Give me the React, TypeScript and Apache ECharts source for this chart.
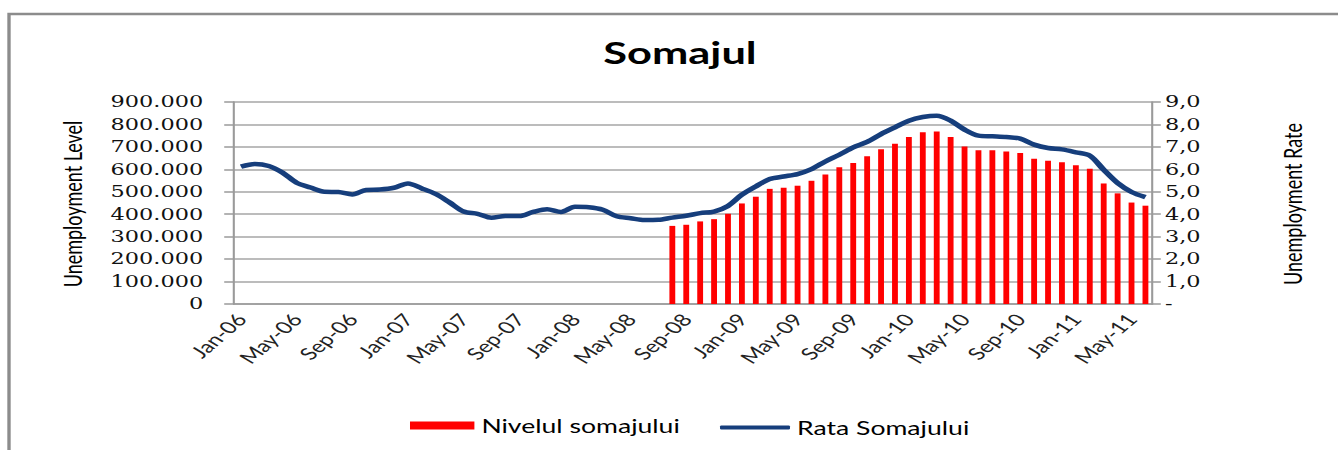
import React, { useEffect, useRef } from "react";
import * as echarts from "echarts";

const monthNames = ["Jan", "Feb", "Mar", "Apr", "May", "Jun", "Jul", "Aug", "Sep", "Oct", "Nov", "Dec"];
const years = ["06", "07", "08", "09", "10", "11"];
const categories: string[] = [];
years.forEach((y) => monthNames.forEach((m) => categories.push(`${m}-${y}`)));
categories.splice(66); // Jan-06 .. Jun-11

// Unemployment rate (%), Jan-06 .. Jun-11
const rateValues = [
  6.12, 6.24, 6.15, 5.85, 5.4, 5.19, 5.0, 4.99, 4.88, 5.08, 5.1, 5.18,
  5.37, 5.15, 4.9, 4.52, 4.12, 4.02, 3.84, 3.92, 3.92, 4.1, 4.22, 4.1,
  4.33, 4.31, 4.2, 3.91, 3.82, 3.74, 3.75, 3.85, 3.93, 4.05, 4.12, 4.37,
  4.87, 5.24, 5.57, 5.68, 5.79, 6.01, 6.35, 6.65, 6.98, 7.22, 7.57, 7.87,
  8.17, 8.33, 8.39, 8.17, 7.77, 7.5, 7.47, 7.44, 7.37, 7.1, 6.95, 6.89,
  6.76, 6.61, 5.98, 5.39, 4.99, 4.76,
];

// Unemployment level, Aug-08 .. Jun-11
const levelStart = "Aug-08";
const levelValues = [
  348000, 353000, 368000, 378000, 402000,
  448000, 478000, 513000, 518000, 527000, 549000, 577000, 609000, 628000, 658000, 689000, 714000,
  744000, 765000, 769000, 744000, 702000, 685000, 685000, 679000, 673000, 647000, 638000, 632000,
  618000, 603000, 537000, 493000, 452000, 438000,
];

const S = 1.4; // horizontal stretch of the reference
const W = 1338 / S;
const H = 450;

export default function App() {
  const ref = useRef<HTMLDivElement>(null);
  useEffect(() => {
    if (!ref.current) return;
    const chart = echarts.init(ref.current, null, { renderer: "svg" });
    const startIdx = categories.indexOf(levelStart);
    const levelSeries = categories.map((_, i) =>
      i >= startIdx && i - startIdx < levelValues.length ? levelValues[i - startIdx] : null
    );
    const gridLeft = 234 / S;
    const gridRight = W - 1152 / S;
    const serif = "DejaVu Serif";
    const legendText = { fontFamily: "Lato", fontSize: 19, color: "#000" };
    chart.setOption({
      animation: false,
      backgroundColor: "#ffffff",
      grid: { left: gridLeft, right: gridRight, top: 102, bottom: H - 304 },
      legend: [
        {
          left: 410 / S,
          top: 416,
          padding: 0,
          itemWidth: 46,
          itemHeight: 8,
          textStyle: legendText,
          data: [{ name: "Nivelul somajului", icon: "rect" }],
        },
        {
          left: 720 / S,
          top: 418,
          padding: 0,
          itemWidth: 50,
          itemHeight: 4,
          textStyle: legendText,
          data: [{ name: "Rata Somajului", icon: "roundRect" }],
        },
      ],
      graphic: [
        {
          type: "rect",
          shape: { x: 9 / S, y: 14, width: W + 20, height: H + 20 },
          style: { fill: "none", stroke: "#8c8c8c", lineWidth: 2.4 },
          silent: true,
        },
        {
          type: "text",
          x: 680 / S,
          y: 52,
          style: {
            text: "Somajul",
            fontFamily: "Lato",
            fontWeight: "bold",
            fontSize: 31,
            fill: "#000",
            textAlign: "center",
            textVerticalAlign: "middle",
          },
        },
        {
          type: "text",
          x: 72 / S,
          y: 204,
          rotation: Math.PI / 2,
          style: {
            text: "Unemployment Level",
            fontFamily: "Lato",
            fontSize: 18,
            fill: "#000",
            textAlign: "center",
            textVerticalAlign: "middle",
          },
        },
        {
          type: "text",
          x: 1292 / S,
          y: 204,
          rotation: Math.PI / 2,
          style: {
            text: "Unemployment Rate",
            fontFamily: "Lato",
            fontSize: 18,
            fill: "#000",
            textAlign: "center",
            textVerticalAlign: "middle",
          },
        },
      ],
      xAxis: {
        type: "category",
        data: categories,
        boundaryGap: true,
        axisLine: { lineStyle: { color: "#9a9a9a", width: 1.5 } },
        axisTick: { interval: 3, length: 5, lineStyle: { color: "#9a9a9a", width: 1.5 } },
        axisLabel: {
          interval: 3,
          rotate: 50,
          margin: 12,
          fontFamily: "Lato",
          fontSize: 17,
          color: "#222",
        },
      },
      yAxis: [
        {
          type: "value",
          min: 0,
          max: 900000,
          interval: 100000,
          axisLine: { show: true, lineStyle: { color: "#9a9a9a", width: 1.5 } },
          axisTick: { show: true, length: 7, lineStyle: { color: "#9a9a9a", width: 1.5 } },
          splitLine: { lineStyle: { color: "#a6a6a6", width: 1.5 } },
          axisLabel: {
            margin: 22,
            fontFamily: serif,
            fontSize: 16,
            color: "#111",
            formatter: (v: number) => (v === 0 ? "0" : `${Math.round(v / 1000)}.000`),
          },
        },
        {
          type: "value",
          min: 0,
          max: 9,
          interval: 1,
          position: "right",
          axisLine: { show: true, lineStyle: { color: "#9a9a9a", width: 1.5 } },
          axisTick: { show: true, length: 6, lineStyle: { color: "#9a9a9a", width: 1.5 } },
          splitLine: { show: false },
          axisLabel: {
            margin: 9,
            fontFamily: serif,
            fontSize: 16,
            color: "#111",
            formatter: (v: number) => (v === 0 ? "-" : v.toFixed(1).replace(".", ",")),
          },
        },
      ],
      series: [
        {
          name: "Nivelul somajului",
          type: "bar",
          yAxisIndex: 0,
          data: levelSeries,
          barWidth: "42%",
          itemStyle: { color: "#ff0000" },
        },
        {
          name: "Rata Somajului",
          type: "line",
          yAxisIndex: 1,
          data: rateValues,
          smooth: 0.3,
          symbol: "none",
          lineStyle: { color: "#163e7c", width: 4.5 },
          itemStyle: { color: "#163e7c" },
        },
      ],
    });
    return () => chart.dispose();
  }, []);
  return (
    <div
      ref={ref}
      style={{
        position: "fixed",
        left: 0,
        top: 0,
        width: W,
        height: H,
        transform: `scaleX(${S})`,
        transformOrigin: "0 0",
      }}
    />
  );
}
